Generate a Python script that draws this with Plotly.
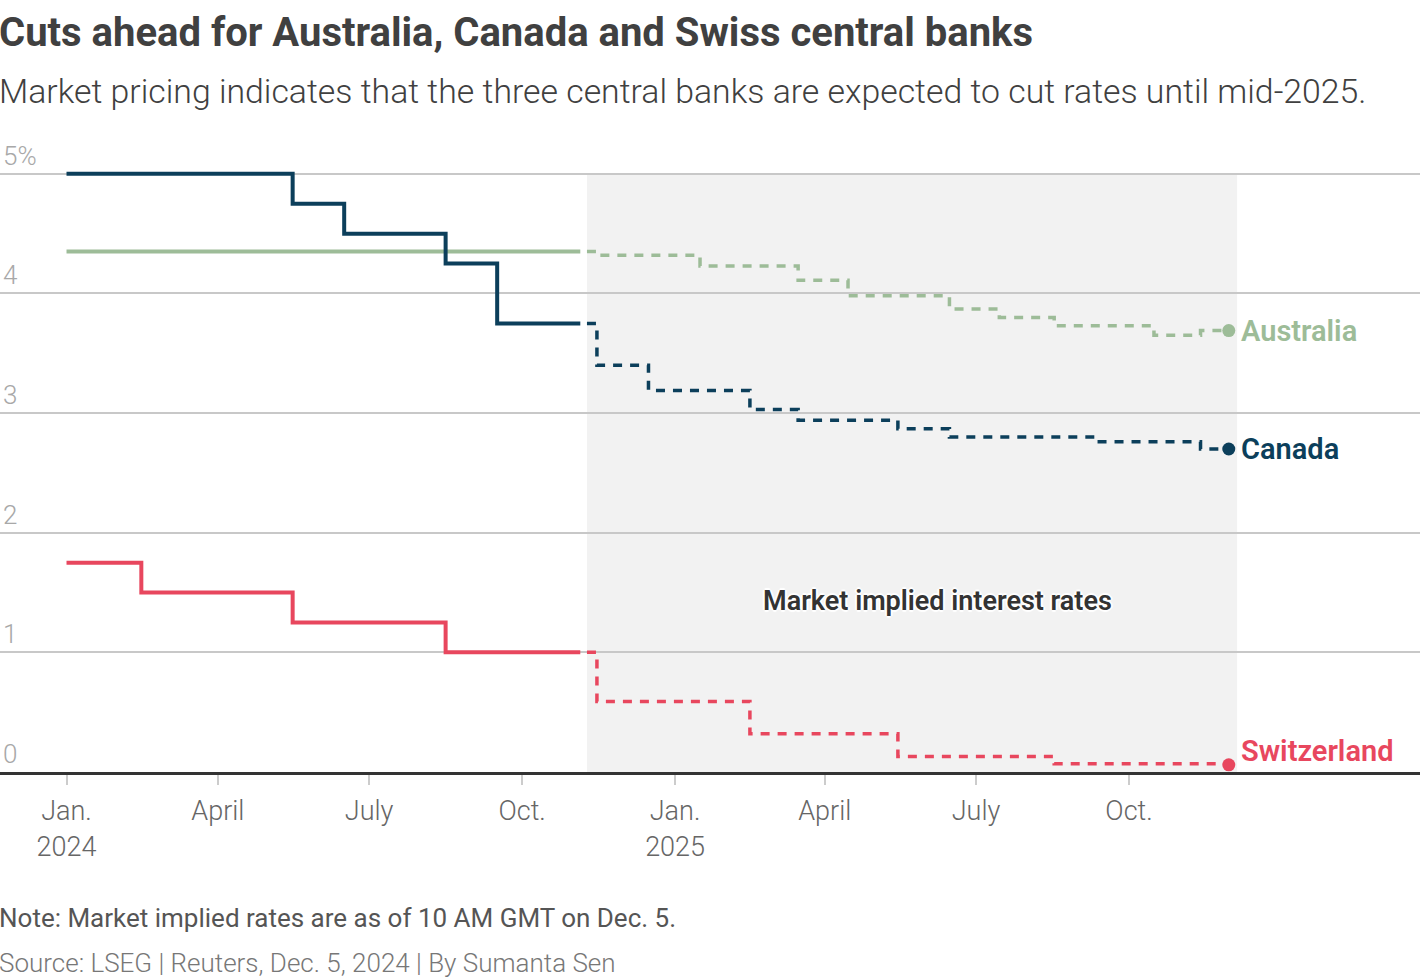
import plotly.graph_objects as go

# ---------------- data ----------------
can_hist_dates = ["2024-01-01", "2024-05-16", "2024-06-16", "2024-08-16", "2024-09-16", "2024-11-05"]
can_hist = [5.0, 4.75, 4.5, 4.25, 3.75, 3.75]
aus_hist_dates = ["2024-01-01", "2024-11-05"]
aus_hist = [4.35, 4.35]
swi_hist_dates = ["2024-01-01", "2024-02-15", "2024-05-16", "2024-08-16", "2024-11-05"]
swi_hist = [1.75, 1.5, 1.25, 1.0, 1.0]

fc_dates = ["2024-11-09", "2024-11-15", "2024-12-16", "2025-01-16", "2025-02-15", "2025-03-16",
            "2025-04-15", "2025-05-15", "2025-06-15", "2025-07-15", "2025-08-17", "2025-09-12",
            "2025-10-16", "2025-11-13", "2025-11-30"]
aus_fc = [4.35, 4.32, 4.32, 4.23, 4.23, 4.11, 3.98, 3.98, 3.87, 3.80, 3.73, 3.73, 3.65, 3.69, 3.69]
can_fc = [3.75, 3.40, 3.19, 3.19, 3.03, 2.94, 2.94, 2.87, 2.80, 2.80, 2.80, 2.76, 2.76, 2.70, 2.70]
swi_fc = [1.00, 0.59, 0.59, 0.59, 0.32, 0.32, 0.32, 0.13, 0.13, 0.13, 0.07, 0.07, 0.07, 0.07, 0.06]

shade_start, shade_end = "2024-11-09", "2025-12-05"

x_tick_vals = ["2024-01-01", "2024-04-01", "2024-07-01", "2024-10-01",
               "2025-01-01", "2025-04-01", "2025-07-01", "2025-10-01"]
x_tick_text = ["Jan.<br>2024", "April", "July", "Oct.", "Jan.<br>2025", "April", "July", "Oct."]
y_tick_vals = [0, 1, 2, 3, 4, 5]
y_tick_text = ["0", "1", "2", "3", "4", "5%"]

series = [
    ("Australia", aus_hist_dates, aus_hist, aus_fc, "#9dbc98"),
    ("Canada", can_hist_dates, can_hist, can_fc, "#0c3f5b"),
    ("Switzerland", swi_hist_dates, swi_hist, swi_fc, "#e8475e"),
]

FONT = "Roboto"

fig = go.Figure()
for name, hd, hv, fv, col in series:
    fig.add_trace(go.Scatter(x=hd, y=hv, mode="lines", line=dict(color=col, width=4, shape="hv"),
                             showlegend=False, hoverinfo="skip"))
    fig.add_trace(go.Scatter(x=fc_dates, y=fv, mode="lines",
                             line=dict(color=col, width=3.5, shape="hv", dash="9px,8px"),
                             showlegend=False, hoverinfo="skip"))
    fig.add_trace(go.Scatter(x=[fc_dates[-1]], y=[fv[-1]], mode="markers",
                             marker=dict(color=col, size=13), cliponaxis=False,
                             showlegend=False, hoverinfo="skip"))
    fig.add_annotation(x=fc_dates[-1], y=fv[-1], text=name, showarrow=False,
                       xanchor="left", yanchor="middle", xshift=10,
                       yshift=14 if name == "Switzerland" else 0,
                       font=dict(family=FONT, size=29, color=col, weight=600))

fig.add_shape(type="rect", xref="x", yref="y", x0=shade_start, x1=shade_end, y0=0, y1=5,
              fillcolor="#f2f2f2", line=dict(width=0), layer="below")

fig.add_annotation(x="2025-06-08", y=1.43, text="Market implied interest rates", showarrow=False,
                   xanchor="center", yanchor="middle",
                   font=dict(family=FONT, size=27, color="#333333", weight=600,
                             shadow="2px 0 1px white, -2px 0 1px white, 0 2px 1px white, 0 -2px 1px white"))

# Titles and notes (paper coords: plot area spans y=126..772 px)
H0, H1 = 772, 126
def py(px):
    return (H0 - px) / (H0 - H1)

fig.add_annotation(xref="paper", yref="paper", x=0, y=py(32), xshift=-3,
                   text="Cuts ahead for Australia, Canada and Swiss central banks",
                   showarrow=False, xanchor="left", yanchor="middle",
                   font=dict(family=FONT, size=40, color="#404040", weight=700))
fig.add_annotation(xref="paper", yref="paper", x=0, y=py(91), xshift=-3,
                   text="Market pricing indicates that the three central banks are expected to cut rates until mid-2025.",
                   showarrow=False, xanchor="left", yanchor="middle",
                   font=dict(family=FONT, size=33.8, color="#404040", weight=300))
fig.add_annotation(xref="paper", yref="paper", x=0, y=py(918), xshift=-3,
                   text="Note: Market implied rates are as of 10 AM GMT on Dec. 5.",
                   showarrow=False, xanchor="left", yanchor="middle",
                   font=dict(family=FONT, size=26, color="#555555", weight=400))
fig.add_annotation(xref="paper", yref="paper", x=0, y=py(963), xshift=-3,
                   text="Source: LSEG | Reuters, Dec. 5, 2024 | By Sumanta Sen",
                   showarrow=False, xanchor="left", yanchor="middle",
                   font=dict(family=FONT, size=26, color="#777777", weight=300))

fig.update_layout(
    width=1420, height=978,
    margin=dict(l=0, r=0, t=126, b=206),
    paper_bgcolor="white", plot_bgcolor="white",
    showlegend=False,
    xaxis=dict(type="date", range=["2023-11-22", "2026-03-25"],
               tickvals=x_tick_vals, ticktext=x_tick_text,
               showgrid=False, zeroline=False,
               showline=True, linecolor="#333333", linewidth=3,
               ticks="outside", ticklen=10, tickwidth=2, tickcolor="#cccccc",
               ticklabelstandoff=3,
               tickfont=dict(family=FONT, size=27, color="#666666", weight=300)),
    yaxis=dict(range=[0, 5.4], tickvals=y_tick_vals, ticktext=y_tick_text,
               showgrid=True, gridcolor="#c8c8c8", gridwidth=2, zeroline=False,
               ticklabelposition="inside top", ticks="",
               tickfont=dict(family=FONT, size=26, color="#a8a8a8", weight=300)),
)

fig.write_html("out.html", config={"displayModeBar": False},
               post_script="document.body.style.margin='0';document.body.style.overflow='hidden';")
